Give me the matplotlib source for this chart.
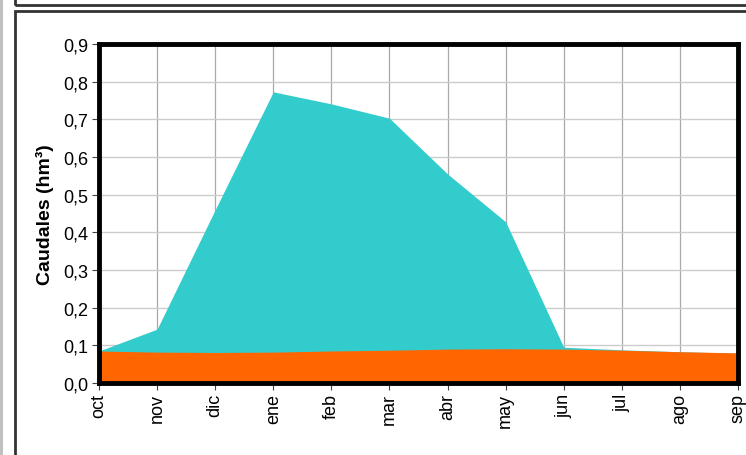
import matplotlib
matplotlib.use("Agg")
import matplotlib.pyplot as plt
from matplotlib.patches import Rectangle
from matplotlib.ticker import FuncFormatter

plt.rcParams['font.family'] = ['Liberation Sans', 'DejaVu Sans']

months = ['oct', 'nov', 'dic', 'ene', 'feb', 'mar', 'abr', 'may', 'jun', 'jul', 'ago', 'sep']
# upper (cyan) series
q_total = [0.085, 0.143, 0.46, 0.773, 0.741, 0.703, 0.555, 0.428, 0.095, 0.088, 0.083, 0.079]
# lower (orange) series
q_base = [0.085, 0.082, 0.081, 0.082, 0.085, 0.087, 0.090, 0.091, 0.090, 0.087, 0.083, 0.080]

W, H = 746, 456
fig = plt.figure(figsize=(W / 100, H / 100), dpi=100)
fig.patch.set_facecolor('white')

def px(x0, y0, x1, y1):
    # pixel box -> figure fraction (left, bottom, width, height)
    return (x0 / W, 1 - y1 / H, (x1 - x0) / W, (y1 - y0) / H)

# left gray strip
l, b, w, h = px(0, 0, 3, H)
fig.patches.append(Rectangle((l, b), w, h, transform=fig.transFigure,
                             facecolor='#c0c0c0', edgecolor='none', zorder=0))
# top box and main panel borders
l, b, w, h = px(15, -10, W + 10, 6)
fig.patches.append(Rectangle((l, b), w, h, transform=fig.transFigure,
                             facecolor='none', edgecolor='#333333', lw=2, zorder=1))
l, b, w, h = px(15, 12, W + 10, H + 10)
fig.patches.append(Rectangle((l, b), w, h, transform=fig.transFigure,
                             facecolor='none', edgecolor='#333333', lw=2, zorder=1))

ax = fig.add_axes(px(99, 45, 738, 384))
x = list(range(len(months)))
ax.fill_between(x, 0, q_total, color='#33CCCC', lw=0, zorder=2)
ax.fill_between(x, 0, q_base, color='#FF6600', lw=0, zorder=3)

ax.set_xlim(0, 11)
ax.set_ylim(0, 0.9)
ax.set_xticks(x)
ax.set_xticklabels(months, rotation=90, fontsize=13)
ax.set_yticks([i / 10 for i in range(10)])
ax.yaxis.set_major_formatter(FuncFormatter(lambda v, p: ('%.1f' % v).replace('.', ',')))
ax.tick_params(axis='y', labelsize=13, length=5, color='#444444', pad=3)
ax.tick_params(axis='x', length=5, color='#444444', pad=2)
ax.xaxis.grid(True, color='#a8a8a8', lw=0.9, zorder=1)
ax.yaxis.grid(True, color='#cccccc', lw=1.0, zorder=1)
ax.set_axisbelow(True)
for s in ax.spines.values():
    s.set_linewidth(3.5)
    s.set_color('black')
    s.set_zorder(5)

ax.set_ylabel('Caudales (hm³)', fontsize=14, fontweight='bold', labelpad=6)

fig.savefig('out.png', dpi=100)
